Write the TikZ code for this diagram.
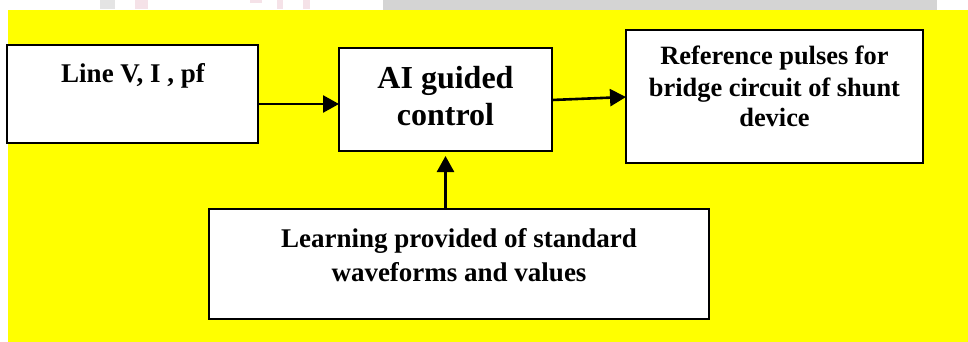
\documentclass[tikz,border=0pt]{standalone}
\usepackage{fontspec}
\setmainfont{Liberation Serif}
\usetikzlibrary{arrows.meta}
\definecolor{bgyellow}{HTML}{FFFF00}
\definecolor{wmgray}{HTML}{D4D4D4}
\definecolor{wmlight}{HTML}{E4E4E4}
\definecolor{wmpink}{HTML}{F5E2E8}
\tikzset{
  blockbox/.style={draw=black, fill=white, line width=2.2pt, rectangle, inner sep=0pt, outer sep=0pt},
  smalltxt/.style={anchor=base, inner sep=0pt, font=\bfseries\fontsize{27}{31}\selectfont},
  midtxt/.style={anchor=base, inner sep=0pt, font=\bfseries\fontsize{26.4}{31}\selectfont},
  bigtxt/.style={anchor=base, inner sep=0pt, font=\bfseries\fontsize{32}{37}\selectfont},
  arr/.style={line width=2.6pt, -{Triangle[length=16pt,width=17pt]}}
}
\begin{document}
\begin{tikzpicture}[x=1pt,y=-1pt]
\useasboundingbox (0,0) rectangle (968,342);
% faint watermark remnants at the top
\fill[wmgray] (383,0) rectangle (937,10);
\fill[wmlight] (100,0) rectangle (115,9);
\fill[wmpink] (135,0) rectangle (148,9);
\fill[wmpink] (250,0) rectangle (262,3);
\fill[wmpink] (277,0) rectangle (283,9);
\fill[wmpink] (303,0) rectangle (310,9);
% yellow background
\fill[bgyellow] (8,10) rectangle (968,342);
% boxes
\node[blockbox, minimum width=251pt, minimum height=98pt] (b1) at (132.5,94) {};
\node[blockbox, minimum width=213pt, minimum height=103pt] (b2) at (445.5,99.5) {};
\node[blockbox, minimum width=297pt, minimum height=133pt] (b3) at (774.5,96.5) {};
\node[blockbox, minimum width=500pt, minimum height=110pt] (b4) at (458.6,263.8) {};
% texts
\node[smalltxt] (t1) at (133,83) {Line V, I , pf};
\node[bigtxt] (t2a) at (445.5,89) {AI guided};
\node[bigtxt] (t2b) at (445.5,125) {control};
\node[midtxt] (t3a) at (774.5,65) {Reference pulses for};
\node[midtxt] (t3b) at (774.5,96) {bridge circuit of shunt};
\node[midtxt] (t3c) at (774.5,127) {device};
\node[smalltxt] (t4a) at (459,247) {Learning provided of standard};
\node[smalltxt] (t4b) at (459,281) {waveforms and values};
% connectors
\draw[arr] ([yshift=-10pt]b1.east) -- ([yshift=-10pt]b1.east -| b2.west);
\draw[arr] ([yshift=-0.5pt]b2.east) -- ([yshift=-0.5pt]b3.west);
\draw[arr, shorten >=5pt] (b2.south |- b4.north) -- (b2.south);
\end{tikzpicture}
\end{document}
